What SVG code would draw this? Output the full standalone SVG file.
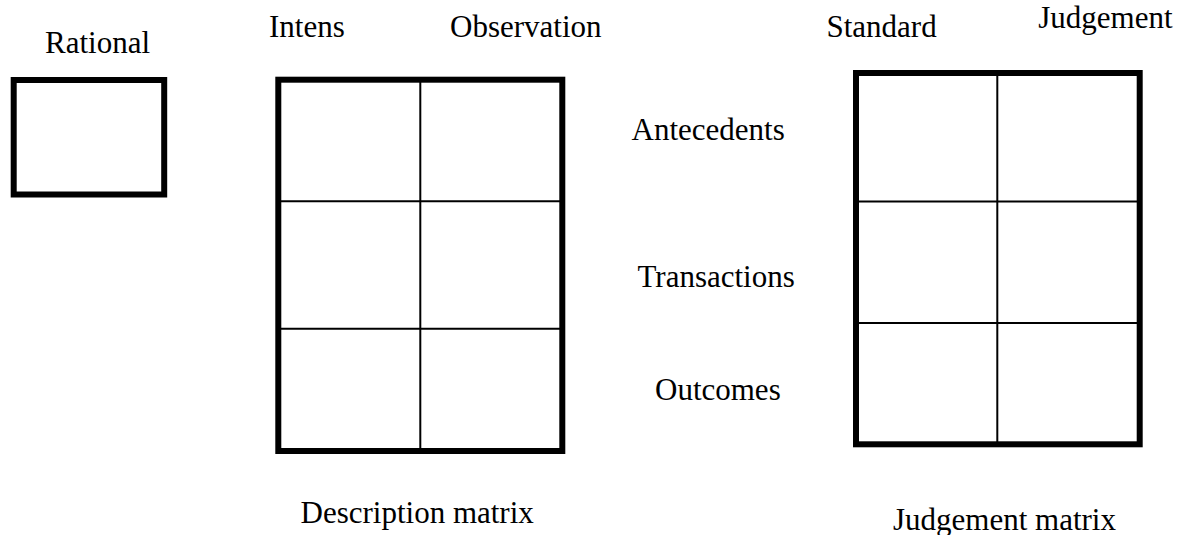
<svg xmlns="http://www.w3.org/2000/svg" width="1187" height="535" viewBox="0 0 1187 535">
<style>
text{font-family:"Liberation Serif","Times New Roman",serif;font-size:31px;fill:#000}
.frame{fill:#fff;stroke:#000;stroke-width:6}
.div{stroke:#000;stroke-width:2;fill:none}
</style>
<rect width="1187" height="535" fill="#fff"/>
<g id="rational">
<rect class="frame" x="13.7" y="80" width="150.5" height="114.5" stroke-width="5.5"/>
<text x="45" y="53.3">Rational</text>
</g>
<g id="description-matrix">
<rect class="frame" x="278.3" y="79.7" width="284" height="371.3"/>
<line class="div" x1="420.3" y1="79.7" x2="420.3" y2="451"/>
<line class="div" x1="278.3" y1="201.3" x2="562.3" y2="201.3"/>
<line class="div" x1="278.3" y1="328.7" x2="562.3" y2="328.7"/>
<text x="269" y="36.7">Intens</text>
<text x="450" y="36.7">Observation</text>
<text x="300.5" y="522.5">Description matrix</text>
</g>
<g id="row-labels">
<text x="631.5" y="140">Antecedents</text>
<text x="637.5" y="286.7">Transactions</text>
<text x="655" y="400">Outcomes</text>
</g>
<g id="judgement-matrix">
<rect class="frame" x="856" y="73" width="283.7" height="371.3" stroke-width="5.8"/>
<line class="div" x1="997.3" y1="73" x2="997.3" y2="444.3" stroke-width="2.5"/>
<line class="div" x1="856" y1="201.5" x2="1139.7" y2="201.5"/>
<line class="div" x1="856" y1="323" x2="1139.7" y2="323" stroke-width="2.3"/>
<text x="826.5" y="36.7">Standard</text>
<text x="1038.3" y="28.3">Judgement</text>
<text x="893" y="530">Judgement matrix</text>
</g>
<g id="connectors"></g>
</svg>
